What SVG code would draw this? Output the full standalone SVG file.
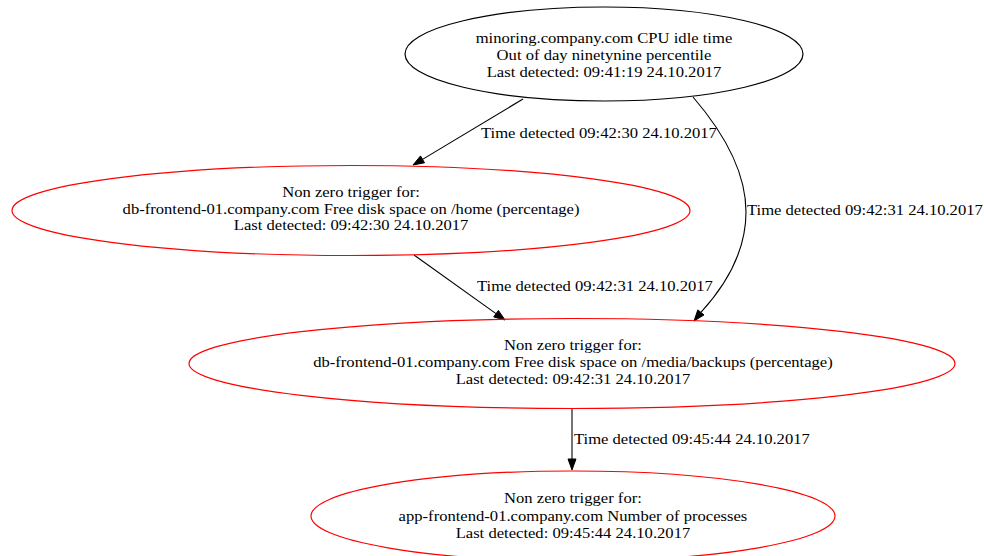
<svg xmlns="http://www.w3.org/2000/svg" width="984" height="556" viewBox="0 0 984 556">
<style>
.n{fill:none;stroke-width:1.2}
.blk{stroke:#000}
.red{stroke:#ff0000}
.e{fill:none;stroke:#000;stroke-width:1.1}
.ah{fill:#000;stroke:#000;stroke-width:1}
text{font-family:"Liberation Serif","Times New Roman",serif;font-size:14.5px;fill:#000}
.c{text-anchor:middle}
</style>
<rect width="984" height="556" fill="#fff"/>
<g id="edges">
<g id="e1"><path class="e" d="M523,99 L422.5,159.4"/><polygon class="ah" points="413,165 424.5,162.8 420.5,155.9"/></g>
<g id="e2"><path class="e" d="M693,97 C718,126 746,168 746,212 C746,252 726,285 700.9,312.4"/><polygon class="ah" points="694,321 704,314.9 697.8,309.9"/></g>
<g id="e3"><path class="e" d="M414,255 L496,313.6"/><polygon class="ah" points="505,320 493.7,316.9 498.4,310.4"/></g>
<g id="e4"><path class="e" d="M572,408.5 L572,459"/><polygon class="ah" points="572,470 568,459 576,459"/></g>
<g transform="scale(1.145 1)">
<text x="420.1" y="138">Time detected 09:42:30 24.10.2017</text>
<text x="652.4" y="215">Time detected 09:42:31 24.10.2017</text>
<text x="416.6" y="291">Time detected 09:42:31 24.10.2017</text>
<text x="501.3" y="444">Time detected 09:45:44 24.10.2017</text>
</g>
</g>
<g id="node1">
<ellipse class="n blk" cx="604" cy="54" rx="199" ry="47"/>
<g transform="scale(1.145 1)">
<text class="c" x="527.5" y="43">minoring.company.com CPU idle time</text>
<text class="c" x="527.5" y="60">Out of day ninetynine percentile</text>
<text class="c" x="527.5" y="77">Last detected: 09:41:19 24.10.2017</text>
</g>
</g>
<g id="node2">
<ellipse class="n red" cx="351" cy="210.5" rx="339" ry="45"/>
<g transform="scale(1.145 1)">
<text class="c" x="306.6" y="197.5">Non zero trigger for:</text>
<text class="c" x="306.6" y="214">db-frontend-01.company.com Free disk space on /home (percentage)</text>
<text class="c" x="306.6" y="230.5">Last detected: 09:42:30 24.10.2017</text>
</g>
</g>
<g id="node3">
<ellipse class="n red" cx="572" cy="363.5" rx="383" ry="45"/>
<g transform="scale(1.145 1)">
<text class="c" x="500.4" y="350.5">Non zero trigger for:</text>
<text class="c" x="500.4" y="367.5">db-frontend-01.company.com Free disk space on /media/backups (percentage)</text>
<text class="c" x="500.4" y="384.5">Last detected: 09:42:31 24.10.2017</text>
</g>
</g>
<g id="node4">
<ellipse class="n red" cx="573" cy="516" rx="262" ry="45"/>
<g transform="scale(1.145 1)">
<text class="c" x="500.4" y="503.5">Non zero trigger for:</text>
<text class="c" x="500.4" y="521">app-frontend-01.company.com Number of processes</text>
<text class="c" x="500.4" y="538">Last detected: 09:45:44 24.10.2017</text>
</g>
</g>
</svg>
